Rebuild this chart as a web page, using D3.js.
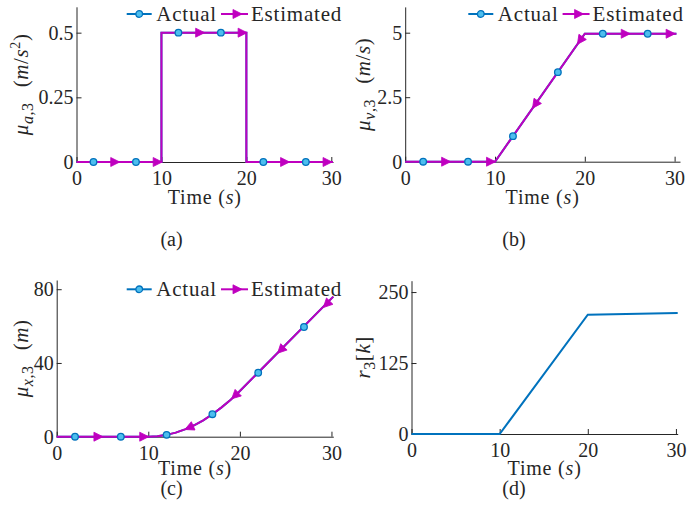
<!DOCTYPE html>
<html>
<head>
<meta charset="utf-8">
<script src="https://cdn.jsdelivr.net/npm/d3@7/dist/d3.min.js"></script>
<style>
  body { margin: 0; background: #fff; }
  svg, svg text { font-family: "Liberation Serif", "Tinos", "Times New Roman", "DejaVu Serif", serif; }
</style>
</head>
<body>
<svg id="fig"></svg>
<script>
// ---- data ----
const timeTicks = [0, 10, 20, 30];

// (a) mean acceleration mu_a,3
const accTime = [0, 10, 10, 20, 20, 30.2];
const accValue = [0, 0, 0.5, 0.5, 0, 0];
const accTicks = [0, 0.25, 0.5];

// (b) mean velocity mu_v,3
const velTime = [0, 10, 20, 30.2];
const velValue = [0, 0, 4.96, 4.96];
const velTicks = [0, 2.5, 5];

// (c) mean position mu_x,3
const posTime = [0, 10, 11, 12, 13, 14, 15, 16, 17, 18, 19, 20, 30.2];
const posValue = [0, 0, 0.25, 1.0, 2.2, 4.0, 6.2, 8.9, 12.2, 15.9, 20.1, 24.8, 76];
const posTicks = [0, 40, 80];

// (d) r_3[k]
const rTime = [0, 10, 20, 30.2];
const rValue = [0, 0, 210, 213];
const rTicks = [0, 125, 250];

// marker samples
const actualMarkT = [2, 7, 12, 17, 22, 27];
const estMarkT = [4.5, 9.5, 14.5, 19.5, 24.5, 29.5];
const accActualMarkV = [0, 0, 0.5, 0.5, 0, 0];
const accEstMarkV = [0, 0, 0.5, 0.5, 0, 0];
const velActualMarkV = [0, 0, 0.99, 3.47, 4.96, 4.96];
const velEstMarkV = [0, 0, 2.23, 4.71, 4.96, 4.96];
const posActualMarkV = [0, 0, 1.0, 12.2, 34.7, 59.5];
const posEstMarkV = [0, 0, 5.0, 22.4, 47.2, 72];

const blue = '#0072BD', cyan = '#4DBEEE', magenta = '#BF00BF', axisCol = '#262626';
const serif = '"Liberation Serif", Tinos, "Times New Roman", "DejaVu Serif", serif';

const svg = d3.select('#fig').attr('width', 687).attr('height', 531).attr('font-family', serif);

const zip = (a, b) => a.map((d, i) => [d, b[i]]);

const panels = [
  { x: [76.5, 333], xMax: 30.2, y: [162, 6.8], yMax: 0.6, ticks: accTicks,
    line: zip(accTime, accValue), act: zip(actualMarkT, accActualMarkV), est: zip(estMarkT, accEstMarkV),
    legend: [126.7, 14], ylab: [28, 'a', [['(', ''], ['m', 'i'], ['/', ''], ['s', 'i'], ['2', 'sup'], [')', '']]],
    xlabY: 204, cap: ['(a)', 171.5, 246] },
  { x: [405.2, 680], xMax: 30.6, y: [161.7, 6.9], yMax: 6, ticks: velTicks,
    line: zip(velTime, velValue), act: zip(actualMarkT, velActualMarkV), est: zip(estMarkT, velEstMarkV),
    legend: [468.3, 14], ylab: [370, 'v', [['(', ''], ['m', 'i'], ['/', ''], ['s', 'i'], [')', '']]],
    xlabY: 204, cap: ['(b)', 514, 246] },
  { x: [56.7, 333.3], xMax: 30.2, y: [436.7, 280], yMax: 85, ticks: posTicks,
    line: zip(posTime, posValue), act: zip(actualMarkT, posActualMarkV), est: zip(estMarkT, posEstMarkV),
    legend: [126.7, 289.3], ylab: [28, 'x', [['(', ''], ['m', 'i'], [')', '']]],
    xlabY: 475, cap: ['(c)', 171.5, 495] },
  { x: [411.5, 677.7], xMax: 30.2, y: [434, 280.7], yMax: 270, ticks: rTicks,
    line: zip(rTime, rValue), act: null, est: null,
    legend: null, ylab: [370, null, null],
    xlabY: 475, cap: ['(d)', 514, 495] }
];

const triPath = 'M-4,-4.5L5,0L-4,4.5Z';

panels.forEach((p) => {
  const xScale = d3.scaleLinear().domain([0, p.xMax]).range(p.x),
    yScale = d3.scaleLinear().domain([0, p.yMax]).range(p.y);
  const g = svg.append('g');

  // axes (box off, ticks inward)
  const gx = g.append('g')
    .attr('transform', 'translate(0,' + p.y[0] + ')')
    .call(d3.axisBottom(xScale).tickValues(timeTicks).tickSizeInner(-5).tickSizeOuter(0).tickPadding(9).tickFormat(d3.format('d')));
  const gy = g.append('g')
    .attr('transform', 'translate(' + p.x[0] + ',0)')
    .call(d3.axisLeft(yScale).tickValues(p.ticks).tickSizeInner(-5).tickSizeOuter(0).tickPadding(3).tickFormat((d) => String(d)));
  [gx, gy].forEach((a) => {
    a.attr('font-family', serif).attr('font-size', 20);
    a.selectAll('path, line').attr('stroke', axisCol).attr('stroke-width', 1);
    a.selectAll('text').attr('fill', axisCol);
  });

  const line = d3.line().x((d) => xScale(d[0])).y((d) => yScale(d[1]));

  if (p.act) {
    g.append('path').datum(p.line).attr('d', line)
      .attr('fill', 'none').attr('stroke', blue).attr('stroke-width', 2);
    g.append('path').datum(p.line).attr('d', line)
      .attr('fill', 'none').attr('stroke', magenta).attr('stroke-width', 2);
    // estimated triangles, pointing back along sloped parts
    g.selectAll('.tri').data(p.est).enter().append('path')
      .attr('d', triPath)
      .attr('fill', magenta).attr('stroke', magenta).attr('stroke-width', 0.8)
      .attr('transform', (d) => {
        let k = p.line.findIndex((q) => q[0] > d[0]);
        if (k < 1) k = p.line.length - 1;
        const a = p.line[k - 1], b = p.line[k];
        const dx = xScale(b[0]) - xScale(a[0]), dy = yScale(b[1]) - yScale(a[1]);
        let ang = Math.atan2(dy, dx) * 180 / Math.PI;
        if (Math.abs(ang) > 1) ang += 180; else ang = 0;
        return 'translate(' + xScale(d[0]) + ',' + yScale(d[1]) + ') rotate(' + ang + ')';
      });
    g.selectAll('.dot').data(p.act).enter().append('circle')
      .attr('cx', (d) => xScale(d[0])).attr('cy', (d) => yScale(d[1])).attr('r', 3.3)
      .attr('fill', cyan).attr('stroke', blue).attr('stroke-width', 1.3);
  } else {
    g.append('path').datum(p.line).attr('d', line)
      .attr('fill', 'none').attr('stroke', blue).attr('stroke-width', 2);
  }

  // x label
  const xl = g.append('text')
    .attr('x', (p.x[0] + p.x[1]) / 2).attr('y', p.xlabY)
    .attr('text-anchor', 'middle').attr('font-size', 20).attr('fill', axisCol)
    .attr('letter-spacing', 0.8);
  xl.append('tspan').text('Time (');
  xl.append('tspan').attr('font-style', 'italic').text('s');
  xl.append('tspan').text(')');

  // y label (rotated)
  const cy = (p.y[0] + p.y[1]) / 2;
  const yl = g.append('text')
    .attr('transform', 'translate(' + p.ylab[0] + ',' + cy + ') rotate(-90)')
    .attr('text-anchor', 'middle').attr('font-size', 21).attr('fill', axisCol)
    .attr('letter-spacing', 0.6);
  if (p.ylab[1]) {
    yl.append('tspan').attr('font-style', 'italic').text('μ');
    yl.append('tspan').attr('font-size', 16).attr('dy', 5).attr('font-style', 'italic').text(p.ylab[1]);
    yl.append('tspan').attr('font-size', 16).text(',3');
    let first = true;
    const hasSup = p.ylab[2].some((q) => q[1] === 'sup');
    p.ylab[2].forEach((part) => {
      const t = yl.append('tspan').text(part[0]);
      if (first) { t.attr('dy', -5).attr('dx', 15); first = false; }
      if (part[1] === 'i') t.attr('font-style', 'italic');
      if (part[1] === 'sup') t.attr('font-size', 14).attr('dy', -8);
      if (part[0] === ')' && hasSup) t.attr('dy', 8);
    });
  } else {
    yl.append('tspan').attr('font-style', 'italic').text('r');
    yl.append('tspan').attr('font-size', 16).attr('dy', 5).text('3');
    yl.append('tspan').attr('dy', -5).text('[');
    yl.append('tspan').attr('font-style', 'italic').text('k');
    yl.append('tspan').text(']');
  }

  // legend
  if (p.legend) {
    const lg = g.append('g').attr('transform', 'translate(' + p.legend[0] + ',' + p.legend[1] + ')');
    lg.append('line').attr('x1', 0).attr('x2', 25).attr('stroke', blue).attr('stroke-width', 2);
    lg.append('circle').attr('cx', 12.5).attr('r', 3.3).attr('fill', cyan).attr('stroke', blue).attr('stroke-width', 1.3);
    const t1 = lg.append('text').attr('x', 29.5).attr('dy', '0.33em').attr('font-size', 21)
      .attr('letter-spacing', 0.8).attr('fill', axisCol).text('Actual');
    const x2 = 29.5 + t1.node().getComputedTextLength() + 4;
    lg.append('line').attr('x1', x2).attr('x2', x2 + 27).attr('stroke', magenta).attr('stroke-width', 2);
    lg.append('path').attr('d', triPath).attr('fill', magenta).attr('stroke', magenta).attr('stroke-width', 0.8)
      .attr('transform', 'translate(' + (x2 + 16) + ',0)');
    lg.append('text').attr('x', x2 + 30).attr('dy', '0.33em').attr('font-size', 21)
      .attr('letter-spacing', 0.8).attr('fill', axisCol).text('Estimated');
  }

  // caption
  svg.append('text').attr('x', p.cap[1]).attr('y', p.cap[2])
    .attr('text-anchor', 'middle').attr('font-size', 20).attr('fill', axisCol).text(p.cap[0]);
});
</script>
</body>
</html>
